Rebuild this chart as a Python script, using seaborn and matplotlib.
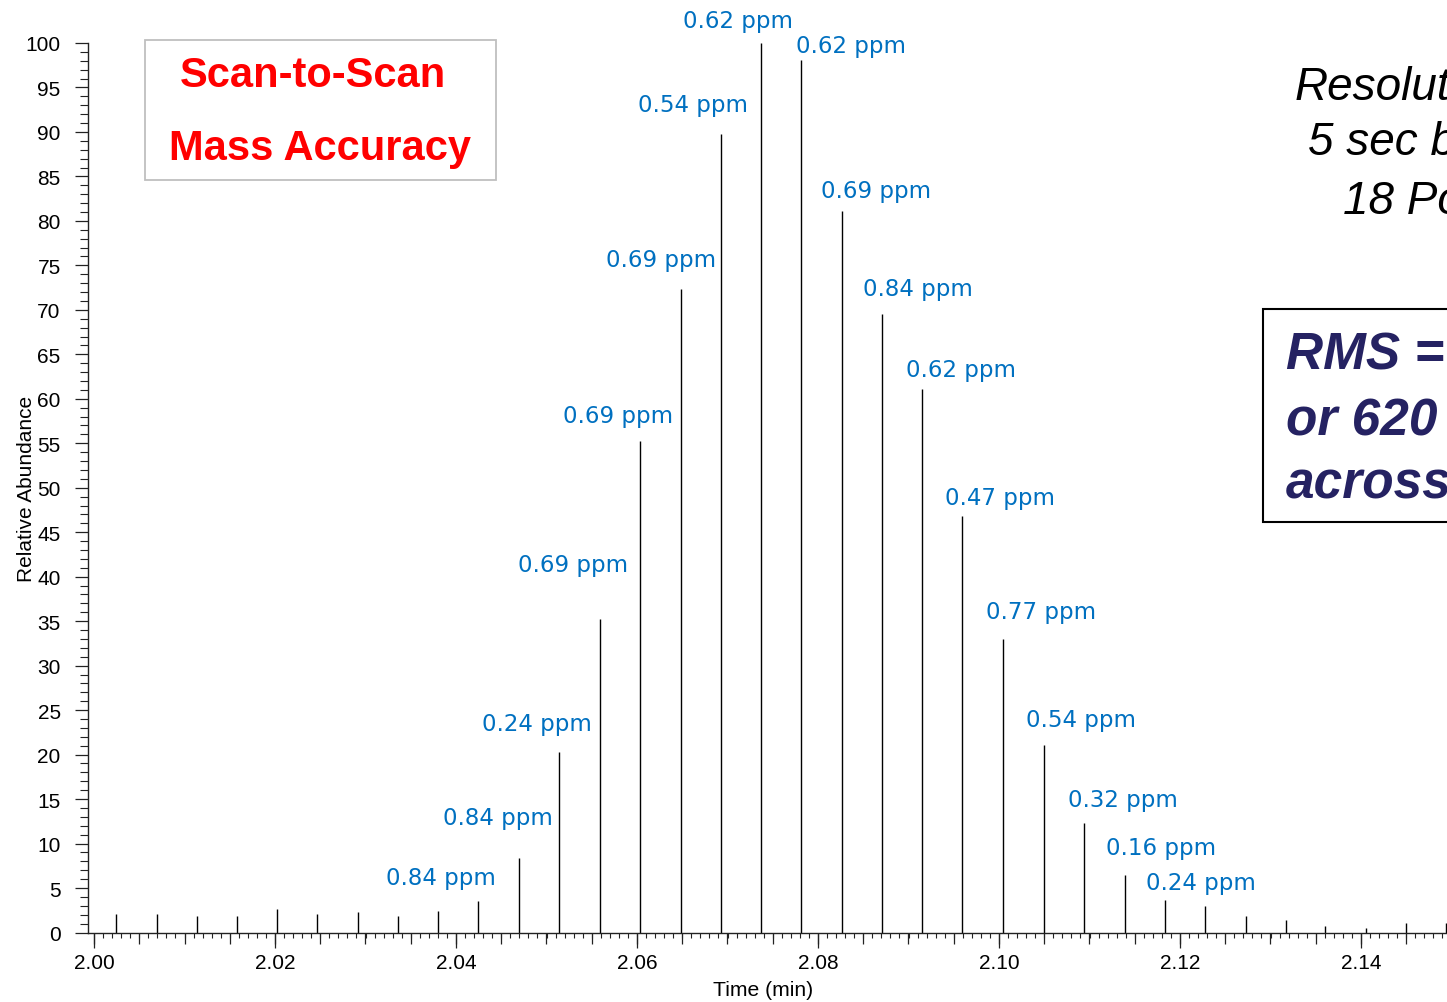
import numpy as np
import pandas as pd
import matplotlib
matplotlib.use("Agg")
import matplotlib.pyplot as plt
from matplotlib.ticker import MultipleLocator, FormatStrFormatter
from matplotlib.patches import Rectangle
import seaborn as sns

# ---------------- data ----------------
scan_times = [2.00243, 2.00696, 2.01138, 2.01580, 2.02022, 2.02464, 2.02917,
              2.03359, 2.03801, 2.04243, 2.04696, 2.05138, 2.05591, 2.06033,
              2.06486, 2.06928, 2.07370, 2.07812, 2.08265, 2.08707, 2.09149,
              2.09591, 2.10044, 2.10497, 2.10939, 2.11392, 2.11834, 2.12276,
              2.12729, 2.13171, 2.13602, 2.14055, 2.14497, 2.14939]
rel_abundance = [2.1, 2.1, 1.8, 1.8, 2.6, 2.1, 2.3, 1.8, 2.4, 3.5, 8.4, 20.3,
                 35.2, 55.2, 72.3, 89.8, 100.0, 98.1, 81.1, 69.5, 61.1, 46.8,
                 33.0, 21.1, 12.3, 6.5, 3.6, 3.0, 1.8, 1.4, 0.7, 0.5, 1.1, 1.1]
# mass-accuracy labels for scans 9..26
labeled_scans = list(range(9, 27))
ppm_errors = [0.84, 0.84, 0.24, 0.69, 0.69, 0.69, 0.54, 0.62, 0.62,
              0.69, 0.84, 0.62, 0.47, 0.77, 0.54, 0.32, 0.16, 0.24]
x_tick_values = [2.00, 2.02, 2.04, 2.06, 2.08, 2.10, 2.12, 2.14]

title_lines = ["Scan-to-Scan", "Mass Accuracy"]
info_lines = ["Resolut", "5 sec b", "18 Po"]
rms_lines = ["RMS =", "or 620", "across"]

df = pd.DataFrame({"time": scan_times, "abundance": rel_abundance})

# ---------------- layout (pixels) ----------------
W, H = 1447, 1003
# label centre offsets from peak top, in pixels (right, up)
label_offsets = [(-37, 24), (-21, 40), (-22, 28), (-27, 55), (-22, 26),
                 (-20, 30), (-28, 29), (-23, 22), (50, 14), (34, 21),
                 (36, 26), (39, 20), (38, 19), (38, 27), (37, 25),
                 (39, 24), (36, 27), (36, 18)]

sns.set_theme(style="ticks")
plt.rcParams["font.family"] = ["Liberation Sans", "DejaVu Sans"]

fig = plt.figure(figsize=(W / 100, H / 100), dpi=100)
fig.patch.set_facecolor("white")


def fx(px):
    return px / W


def fy(py):
    return 1 - py / H


ax_left, ax_right, ax_top, ax_bottom = 88, 1447, 44, 933.5
ax = fig.add_axes([fx(ax_left), fy(ax_bottom), (ax_right - ax_left) / W,
                   (ax_bottom - ax_top) / H])
ax.set_facecolor("white")

ax.vlines(df["time"], 0, df["abundance"], color="black", linewidth=1.0)

px_per_unit = 9050.0
x0 = 2.0 - (94 - ax_left) / px_per_unit
x1 = 2.0 + (ax_right - 94) / px_per_unit
ax.set_xlim(x0, x1)
ax.set_ylim(0, 100)

sns.despine(ax=ax)
for s in ("left", "bottom"):
    ax.spines[s].set_color("#222222")
    ax.spines[s].set_linewidth(1.0)

ax.set_xticks(x_tick_values)
ax.xaxis.set_major_formatter(FormatStrFormatter("%.2f"))
ax.xaxis.set_minor_locator(MultipleLocator(0.001))
ax.yaxis.set_major_locator(MultipleLocator(5))
ax.yaxis.set_minor_locator(MultipleLocator(1))
ax.tick_params(axis="x", which="major", length=10.8, width=0.9, color="#222222",
               labelsize=15, pad=3.8, labelcolor="black")
ax.tick_params(axis="x", which="minor", length=3.6, width=0.8, color="#222222")
ax.tick_params(axis="y", which="major", length=9.4, width=0.9, color="#222222",
               labelsize=15, pad=10.3, labelcolor="black")
ax.tick_params(axis="y", which="minor", length=5.8, width=0.8, color="#222222")

sec = ax.secondary_xaxis("bottom")
sec.set_xticks(np.arange(2.0, 2.1501, 0.005))
sec.tick_params(axis="x", which="major", length=7.9, width=0.9, color="#222222",
                labelbottom=False)
sec.tick_params(axis="x", which="minor", length=0)
sec.spines["bottom"].set_visible(False)

ax.set_xlabel("Time (min)", fontsize=15.2, color="black")
ax.xaxis.set_label_coords((763 - ax_left) / (ax_right - ax_left),
                          -(981 - ax_bottom) / (ax_bottom - ax_top))
ax.set_ylabel("Relative Abundance", fontsize=15, color="black")
ax.yaxis.set_label_coords(-(ax_left - 36) / (ax_right - ax_left), 0.5)

blue = "#0070C0"
for idx, ppm, (dx, dy) in zip(labeled_scans, ppm_errors, label_offsets):
    ax.annotate(f"{ppm:.2f} ppm", xy=(scan_times[idx], rel_abundance[idx]),
                xytext=(dx, dy), textcoords="offset pixels",
                ha="center", va="center", color=blue, fontsize=16.5,
                family=["DejaVu Sans"], annotation_clip=False)

# title box
fig.add_artist(Rectangle((fx(145), fy(181)), (496 - 145) / W, (181 - 41) / H,
                         transform=fig.transFigure, fill=False,
                         edgecolor="#BFBFBF", linewidth=1.3))
fig.text(fx(180), fy(87), title_lines[0], ha="left", va="baseline",
         color="#FF0000", fontsize=30, fontweight="bold")
fig.text(fx(169), fy(160), title_lines[1], ha="left", va="baseline",
         color="#FF0000", fontsize=30, fontweight="bold")

# right-hand info text (cut at the figure edge, as in the reference)
for txt, (px, py) in zip(info_lines, [(1295, 100), (1308, 155), (1343, 214)]):
    fig.text(fx(px), fy(py), txt, ha="left", va="baseline", color="black",
             fontsize=33, fontstyle="italic")

# RMS box
fig.add_artist(Rectangle((fx(1263), fy(523)), (1470 - 1263) / W, (523 - 310) / H,
                         transform=fig.transFigure, facecolor="white",
                         edgecolor="black", linewidth=1.5))
navy = "#252262"
for txt, py in zip(rms_lines, [370, 436, 499]):
    fig.text(fx(1286), fy(py), txt, ha="left", va="baseline", color=navy,
             fontsize=37, fontweight="bold", fontstyle="italic")

fig.savefig("out.png", dpi=100, facecolor="white")
